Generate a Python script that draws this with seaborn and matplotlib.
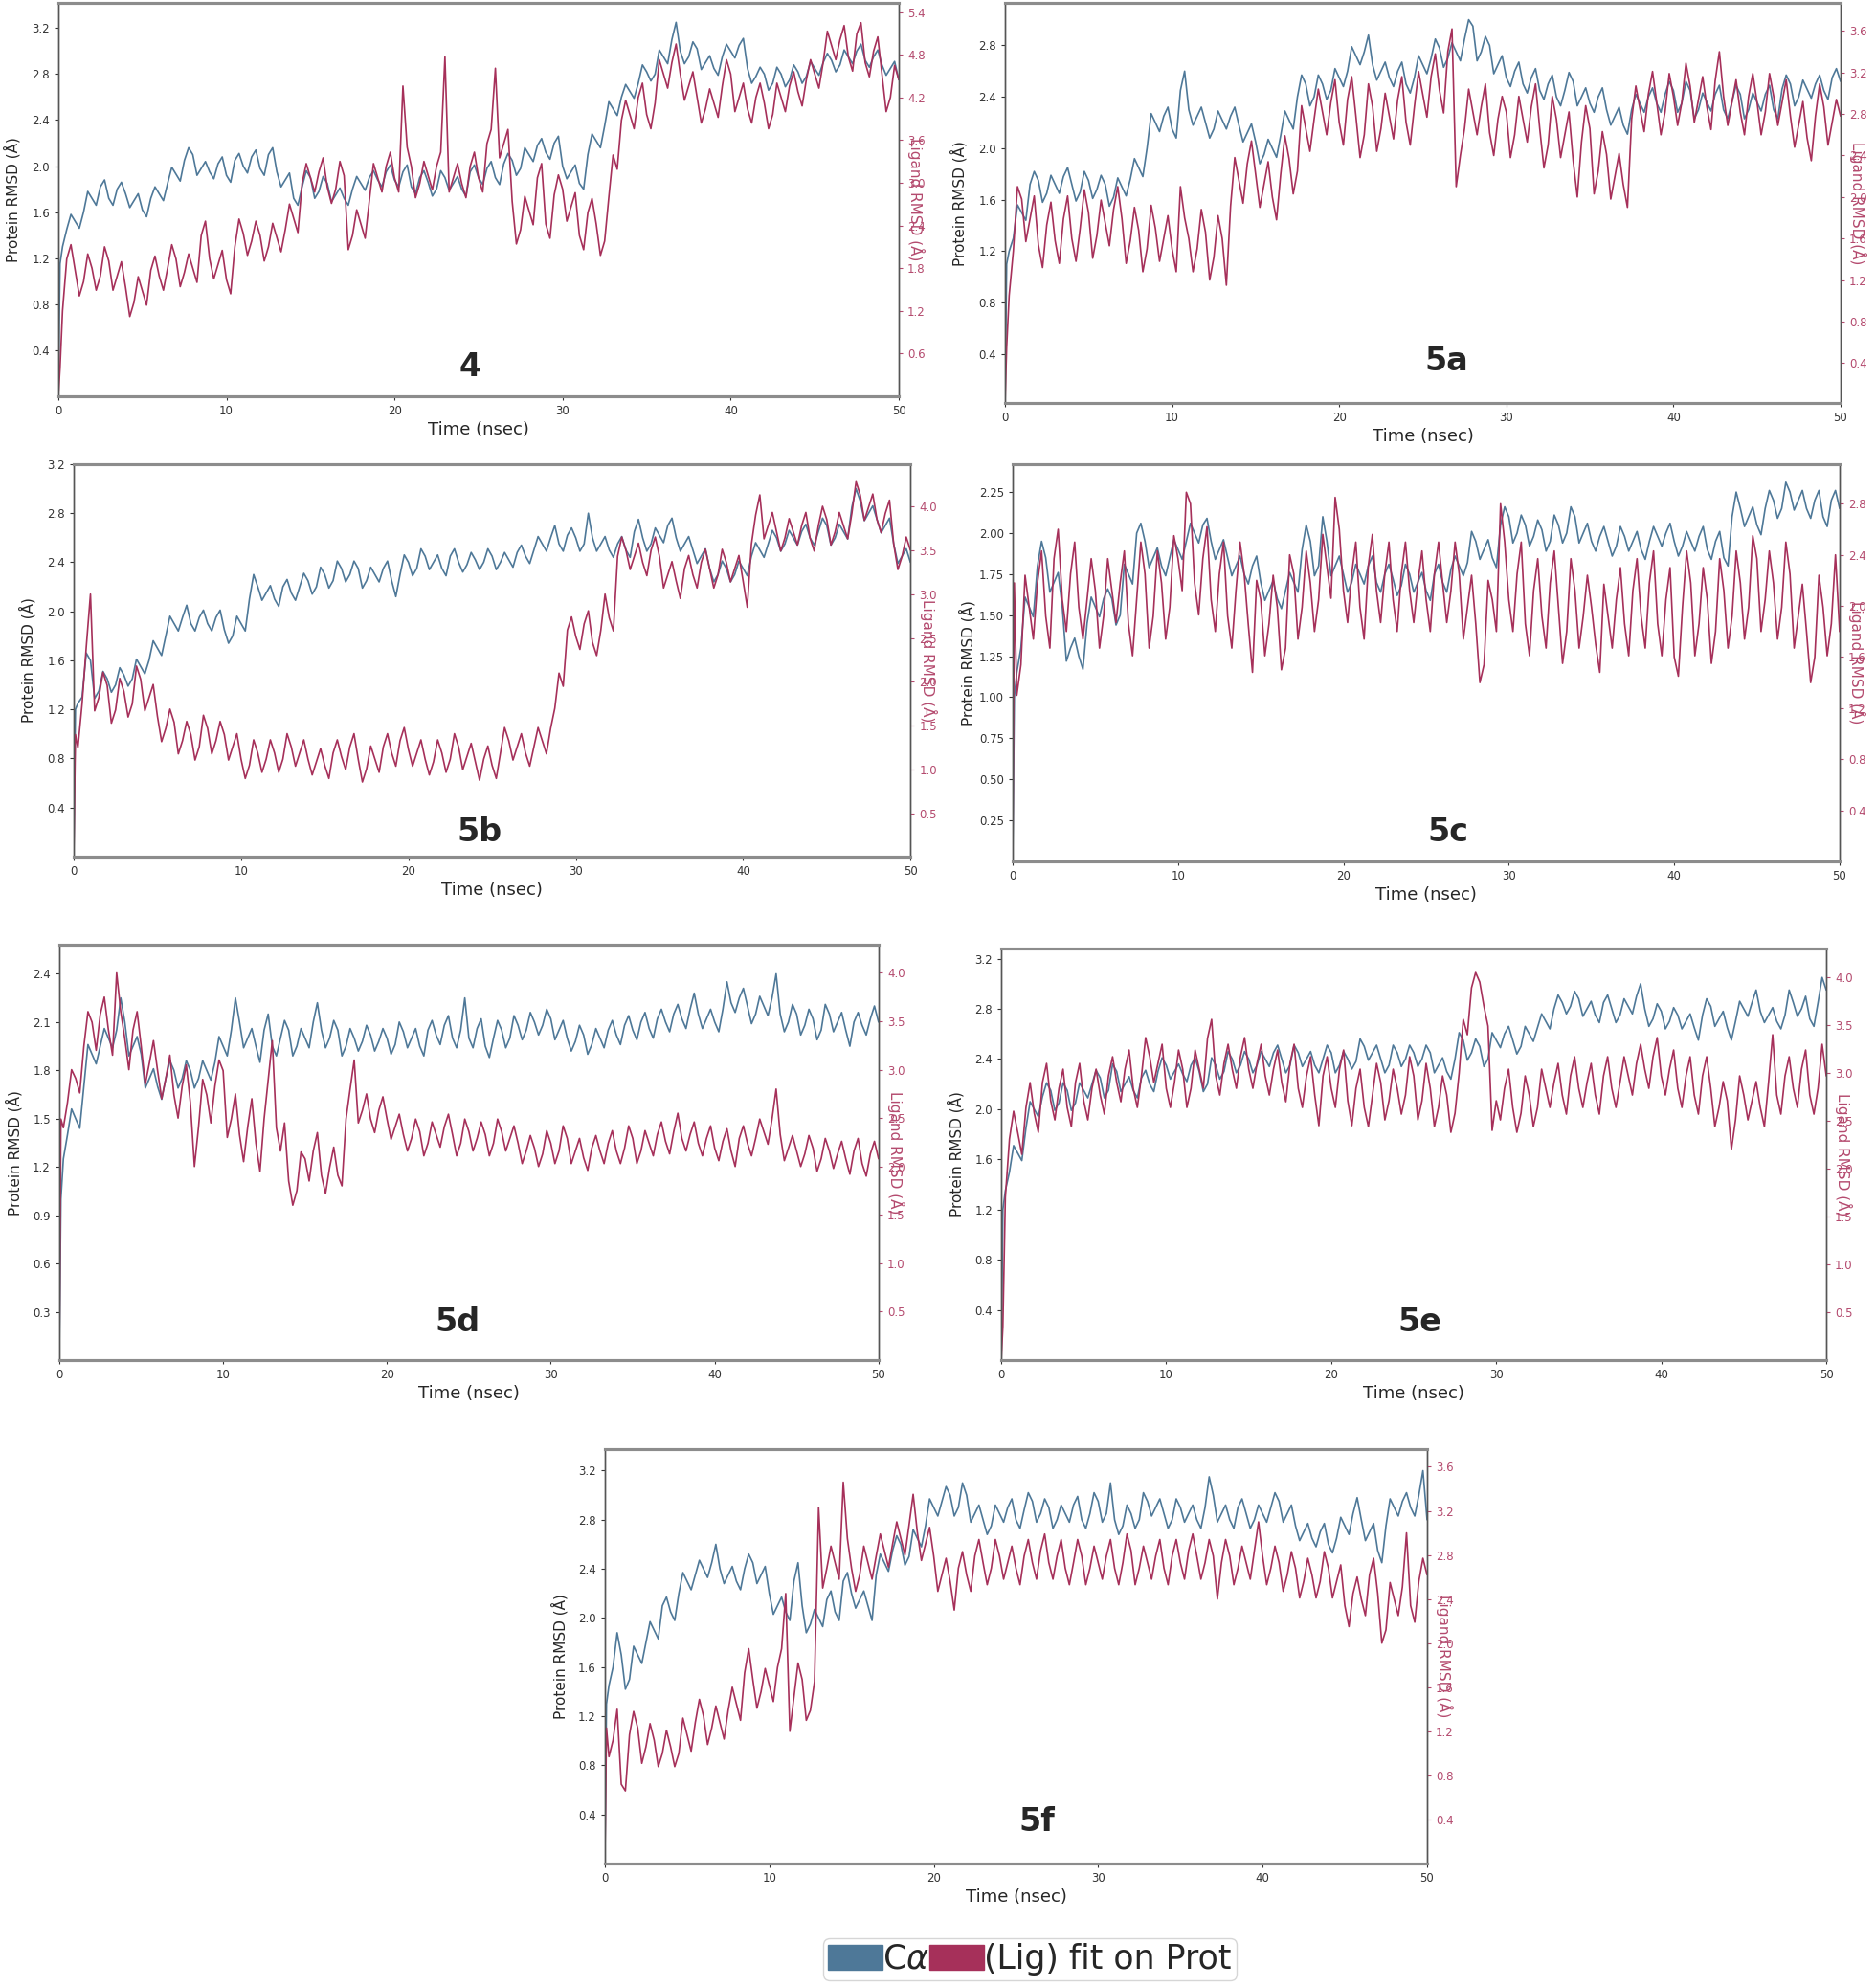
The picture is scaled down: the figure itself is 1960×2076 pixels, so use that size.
import numpy as np
import matplotlib
matplotlib.use("Agg")
import matplotlib.pyplot as plt
import seaborn as sns
from matplotlib.patches import Patch
from matplotlib.ticker import FormatStrFormatter

# frames: t=0, t=0.1, then every 0.25 ns up to 50 ns
time_ns = np.r_[0.0, 0.1, np.arange(1, 201) * 0.25]

# ---- compound 4 ----
prot_4 = [0.0,
    1.15, 1.30, 1.45, 1.58, 1.52, 1.46, 1.60, 1.78, 1.72, 1.66, 1.82, 1.88, 1.72, 1.66, 1.80, 1.86, 1.76, 1.64, 1.70, 1.76,
    1.62, 1.56, 1.72, 1.82, 1.76, 1.70, 1.85, 1.99, 1.93, 1.87, 2.05, 2.16, 2.10, 1.92, 1.98, 2.04, 1.95, 1.89, 2.02, 2.08,
    1.92, 1.86, 2.05, 2.11, 2.00, 1.94, 2.08, 2.14, 1.98, 1.92, 2.10, 2.16, 1.95, 1.82, 1.88, 1.94, 1.72, 1.66, 1.82, 1.96,
    1.90, 1.72, 1.78, 1.91, 1.85, 1.69, 1.75, 1.81, 1.72, 1.66, 1.80, 1.91, 1.85, 1.79, 1.90, 1.96, 1.88, 1.82, 1.95, 2.01,
    1.88, 1.82, 1.95, 2.01, 1.82, 1.76, 1.90, 1.96, 1.86, 1.74, 1.80, 1.96, 1.90, 1.79, 1.85, 1.91, 1.80, 1.74, 1.95, 2.01,
    1.90, 1.84, 1.98, 2.04, 1.90, 1.84, 2.02, 2.11, 2.05, 1.92, 1.98, 2.16, 2.10, 2.04, 2.18, 2.24, 2.12, 2.06, 2.20, 2.26,
    2.00, 1.89, 1.95, 2.01, 1.85, 1.80, 2.10, 2.28, 2.22, 2.16, 2.35, 2.56, 2.50, 2.44, 2.60, 2.71, 2.65, 2.59, 2.72, 2.88,
    2.82, 2.74, 2.80, 3.01, 2.95, 2.89, 3.10, 3.25, 3.00, 2.89, 2.95, 3.08, 3.02, 2.84, 2.90, 2.96, 2.85, 2.79, 2.95, 3.06,
    3.00, 2.94, 3.05, 3.11, 2.85, 2.72, 2.78, 2.86, 2.80, 2.66, 2.72, 2.86, 2.80, 2.69, 2.75, 2.88, 2.82, 2.72, 2.78, 2.91,
    2.85, 2.79, 2.90, 2.98, 2.92, 2.82, 2.88, 3.01, 2.95, 2.89, 3.00, 3.06, 2.92, 2.86, 2.95, 3.01, 2.88, 2.79, 2.85, 2.91,
    2.75]
lig_4 = [0.0,
    0.39, 1.20, 1.93, 2.13, 1.77, 1.41, 1.61, 2.00, 1.80, 1.49, 1.69, 2.10, 1.90, 1.49, 1.69, 1.89, 1.53, 1.12, 1.32, 1.68,
    1.48, 1.28, 1.77, 1.97, 1.69, 1.49, 1.80, 2.13, 1.93, 1.54, 1.74, 2.00, 1.80, 1.60, 2.26, 2.46, 1.93, 1.65, 1.85, 2.05,
    1.64, 1.44, 2.10, 2.49, 2.29, 1.98, 2.18, 2.46, 2.26, 1.90, 2.10, 2.43, 2.23, 2.03, 2.34, 2.70, 2.50, 2.30, 2.99, 3.27,
    3.07, 2.87, 3.15, 3.35, 2.94, 2.71, 2.91, 3.30, 3.10, 2.06, 2.26, 2.62, 2.42, 2.22, 2.74, 3.27, 3.07, 2.87, 3.23, 3.43,
    3.07, 2.87, 4.36, 3.50, 3.23, 2.79, 2.99, 3.30, 3.10, 2.90, 3.23, 3.43, 4.77, 2.87, 3.07, 3.27, 2.99, 2.79, 3.23, 3.43,
    3.07, 2.87, 3.55, 3.75, 4.61, 3.35, 3.55, 3.75, 2.74, 2.14, 2.34, 2.81, 2.61, 2.41, 3.07, 3.27, 2.42, 2.22, 2.83, 3.11,
    2.91, 2.46, 2.66, 2.86, 2.26, 2.06, 2.58, 2.78, 2.42, 1.98, 2.18, 2.80, 3.39, 3.19, 3.88, 4.16, 3.96, 3.76, 4.20, 4.40,
    3.96, 3.76, 4.12, 4.73, 4.53, 4.33, 4.69, 4.95, 4.53, 4.16, 4.36, 4.56, 4.20, 3.84, 4.04, 4.32, 4.12, 3.92, 4.36, 4.73,
    4.53, 4.00, 4.20, 4.40, 4.04, 3.84, 4.20, 4.40, 4.12, 3.76, 3.96, 4.40, 4.20, 4.00, 4.36, 4.56, 4.28, 4.08, 4.45, 4.73,
    4.53, 4.33, 4.69, 5.13, 4.93, 4.73, 5.01, 5.21, 4.77, 4.57, 5.09, 5.25, 4.69, 4.49, 4.85, 5.05, 4.53, 4.00, 4.20, 4.65,
    4.45]

# ---- compound 5a ----
prot_5a = [0.0,
    1.10, 1.20, 1.30, 1.56, 1.50, 1.44, 1.72, 1.82, 1.75, 1.58, 1.65, 1.79, 1.72, 1.65, 1.78, 1.85, 1.72, 1.59, 1.66, 1.82,
    1.75, 1.61, 1.68, 1.79, 1.72, 1.55, 1.62, 1.77, 1.70, 1.63, 1.76, 1.92, 1.85, 1.78, 2.00, 2.27, 2.20, 2.13, 2.25, 2.32,
    2.15, 2.08, 2.45, 2.60, 2.30, 2.18, 2.25, 2.32, 2.20, 2.08, 2.15, 2.29, 2.22, 2.15, 2.25, 2.32, 2.18, 2.05, 2.12, 2.19,
    2.05, 1.88, 1.95, 2.07, 2.00, 1.93, 2.10, 2.29, 2.22, 2.15, 2.40, 2.57, 2.50, 2.33, 2.40, 2.57, 2.50, 2.38, 2.45, 2.62,
    2.55, 2.48, 2.60, 2.79, 2.72, 2.65, 2.75, 2.88, 2.65, 2.53, 2.60, 2.67, 2.55, 2.48, 2.60, 2.67, 2.50, 2.43, 2.55, 2.72,
    2.65, 2.58, 2.70, 2.85, 2.78, 2.63, 2.70, 2.82, 2.75, 2.68, 2.85, 3.00, 2.95, 2.68, 2.75, 2.87, 2.80, 2.58, 2.65, 2.72,
    2.55, 2.48, 2.60, 2.67, 2.50, 2.43, 2.55, 2.62, 2.45, 2.38, 2.50, 2.57, 2.40, 2.33, 2.45, 2.59, 2.52, 2.33, 2.40, 2.47,
    2.35, 2.28, 2.40, 2.47, 2.30, 2.18, 2.25, 2.32, 2.18, 2.11, 2.30, 2.42, 2.35, 2.28, 2.40, 2.47, 2.35, 2.28, 2.42, 2.52,
    2.45, 2.28, 2.35, 2.52, 2.45, 2.23, 2.30, 2.43, 2.36, 2.29, 2.42, 2.49, 2.30, 2.23, 2.36, 2.49, 2.42, 2.23, 2.30, 2.43,
    2.36, 2.29, 2.42, 2.49, 2.30, 2.23, 2.46, 2.57, 2.50, 2.33, 2.40, 2.53, 2.46, 2.39, 2.50, 2.57, 2.45, 2.38, 2.55, 2.62,
    2.52]
lig_5a = [0.0,
    0.55, 1.05, 1.48, 2.10, 1.98, 1.57, 1.79, 2.01, 1.54, 1.32, 1.73, 1.95, 1.58, 1.36, 1.79, 2.01, 1.60, 1.38, 1.70, 2.07,
    1.85, 1.41, 1.63, 1.97, 1.75, 1.53, 1.88, 2.10, 1.79, 1.36, 1.58, 1.90, 1.68, 1.28, 1.50, 1.92, 1.70, 1.38, 1.60, 1.82,
    1.50, 1.28, 2.10, 1.80, 1.60, 1.28, 1.50, 1.88, 1.66, 1.20, 1.42, 1.82, 1.60, 1.15, 1.91, 2.38, 2.16, 1.94, 2.32, 2.54,
    2.22, 1.90, 2.12, 2.34, 2.00, 1.78, 2.22, 2.59, 2.37, 2.03, 2.25, 2.88, 2.66, 2.44, 2.75, 3.04, 2.82, 2.60, 2.91, 3.13,
    2.72, 2.50, 2.94, 3.16, 2.78, 2.38, 2.60, 3.09, 2.87, 2.44, 2.66, 3.00, 2.78, 2.56, 2.94, 3.16, 2.72, 2.50, 2.87, 3.21,
    2.99, 2.77, 3.16, 3.38, 3.03, 2.81, 3.40, 3.62, 2.10, 2.40, 2.66, 3.04, 2.82, 2.60, 2.87, 3.09, 2.62, 2.40, 2.75, 2.97,
    2.82, 2.38, 2.60, 2.97, 2.75, 2.53, 2.87, 3.09, 2.66, 2.28, 2.50, 2.97, 2.75, 2.38, 2.60, 2.82, 2.35, 2.00, 2.53, 2.88,
    2.66, 2.03, 2.25, 2.63, 2.41, 1.98, 2.20, 2.42, 2.12, 1.90, 2.75, 3.07, 2.85, 2.63, 2.99, 3.21, 2.91, 2.60, 2.82, 3.19,
    2.97, 2.69, 2.91, 3.29, 3.07, 2.72, 2.94, 3.16, 2.87, 2.65, 3.12, 3.40, 2.97, 2.69, 2.91, 3.13, 2.82, 2.60, 2.97, 3.19,
    2.92, 2.60, 2.82, 3.19, 2.97, 2.69, 2.91, 3.13, 2.78, 2.48, 2.70, 2.92, 2.57, 2.35, 2.78, 3.09, 2.87, 2.50, 2.72, 2.94,
    2.78]

# ---- compound 5b ----
prot_5b = [0.0,
    1.20, 1.25, 1.30, 1.66, 1.60, 1.29, 1.35, 1.51, 1.45, 1.34, 1.40, 1.54, 1.48, 1.39, 1.45, 1.61, 1.55, 1.49, 1.60, 1.76,
    1.70, 1.64, 1.80, 1.96, 1.90, 1.84, 1.95, 2.05, 1.90, 1.84, 1.95, 2.01, 1.90, 1.84, 1.95, 2.01, 1.85, 1.74, 1.80, 1.96,
    1.90, 1.84, 2.10, 2.30, 2.20, 2.09, 2.15, 2.21, 2.10, 2.04, 2.20, 2.26, 2.15, 2.09, 2.20, 2.31, 2.25, 2.14, 2.20, 2.36,
    2.30, 2.19, 2.25, 2.41, 2.35, 2.24, 2.30, 2.41, 2.35, 2.19, 2.25, 2.36, 2.30, 2.24, 2.35, 2.41, 2.25, 2.12, 2.30, 2.46,
    2.40, 2.29, 2.35, 2.51, 2.45, 2.34, 2.40, 2.46, 2.35, 2.29, 2.45, 2.51, 2.40, 2.32, 2.38, 2.48, 2.42, 2.34, 2.40, 2.51,
    2.45, 2.34, 2.40, 2.48, 2.42, 2.36, 2.48, 2.54, 2.45, 2.39, 2.50, 2.61, 2.55, 2.49, 2.60, 2.70, 2.55, 2.49, 2.62, 2.68,
    2.60, 2.49, 2.55, 2.80, 2.60, 2.49, 2.55, 2.61, 2.50, 2.44, 2.55, 2.61, 2.50, 2.44, 2.65, 2.75, 2.60, 2.49, 2.55, 2.68,
    2.62, 2.56, 2.70, 2.76, 2.60, 2.49, 2.55, 2.61, 2.50, 2.39, 2.45, 2.51, 2.35, 2.24, 2.30, 2.41, 2.35, 2.24, 2.30, 2.41,
    2.35, 2.29, 2.45, 2.56, 2.50, 2.44, 2.55, 2.66, 2.60, 2.49, 2.55, 2.66, 2.60, 2.54, 2.65, 2.71, 2.60, 2.54, 2.65, 2.76,
    2.70, 2.54, 2.60, 2.71, 2.65, 2.59, 2.85, 3.00, 2.90, 2.74, 2.80, 2.86, 2.75, 2.64, 2.70, 2.76, 2.55, 2.39, 2.45, 2.51,
    2.40]
lig_5b = [0.0,
    1.40, 1.25, 1.75, 2.40, 3.00, 1.67, 1.82, 2.11, 1.96, 1.53, 1.68, 2.04, 1.89, 1.60, 1.75, 2.18, 2.03, 1.67, 1.82, 1.97,
    1.61, 1.32, 1.47, 1.69, 1.54, 1.18, 1.33, 1.55, 1.40, 1.11, 1.26, 1.62, 1.47, 1.18, 1.33, 1.55, 1.40, 1.11, 1.26, 1.41,
    1.12, 0.90, 1.05, 1.34, 1.19, 0.97, 1.12, 1.34, 1.19, 0.97, 1.12, 1.41, 1.26, 1.04, 1.19, 1.34, 1.12, 0.94, 1.09, 1.24,
    1.05, 0.90, 1.19, 1.34, 1.15, 1.00, 1.26, 1.41, 1.12, 0.86, 1.01, 1.27, 1.12, 0.97, 1.26, 1.41, 1.19, 1.04, 1.33, 1.48,
    1.23, 1.04, 1.19, 1.34, 1.12, 0.94, 1.09, 1.34, 1.19, 0.97, 1.12, 1.41, 1.26, 1.00, 1.15, 1.30, 1.09, 0.88, 1.12, 1.27,
    1.05, 0.90, 1.19, 1.48, 1.33, 1.11, 1.26, 1.41, 1.19, 1.04, 1.26, 1.48, 1.33, 1.18, 1.47, 1.70, 2.10, 1.95, 2.59, 2.74,
    2.52, 2.37, 2.66, 2.81, 2.45, 2.30, 2.59, 3.00, 2.73, 2.58, 3.43, 3.65, 3.50, 3.28, 3.43, 3.58, 3.36, 3.21, 3.50, 3.65,
    3.43, 3.07, 3.22, 3.37, 3.15, 2.95, 3.29, 3.44, 3.22, 3.07, 3.36, 3.51, 3.29, 3.07, 3.22, 3.51, 3.36, 3.14, 3.29, 3.44,
    3.15, 2.85, 3.57, 3.90, 4.13, 3.63, 3.78, 3.93, 3.71, 3.49, 3.64, 3.86, 3.71, 3.56, 3.78, 3.93, 3.64, 3.49, 3.78, 4.00,
    3.85, 3.56, 3.71, 3.93, 3.78, 3.63, 3.92, 4.28, 4.13, 3.84, 3.99, 4.14, 3.85, 3.70, 3.92, 4.07, 3.57, 3.28, 3.43, 3.65,
    3.50]

# ---- compound 5c ----
prot_5c = [0.0,
    1.00, 1.15, 1.30, 1.61, 1.55, 1.49, 1.80, 1.95, 1.85, 1.64, 1.70, 1.76, 1.55, 1.22, 1.30, 1.36, 1.25, 1.17, 1.45, 1.61,
    1.55, 1.49, 1.60, 1.66, 1.60, 1.44, 1.50, 1.81, 1.75, 1.69, 2.00, 2.06, 1.95, 1.79, 1.85, 1.91, 1.80, 1.74, 1.85, 1.96,
    1.90, 1.84, 1.95, 2.06, 2.00, 1.94, 2.05, 2.09, 1.95, 1.84, 1.90, 1.96, 1.85, 1.74, 1.80, 1.86, 1.75, 1.69, 1.80, 1.86,
    1.70, 1.59, 1.65, 1.71, 1.60, 1.54, 1.65, 1.76, 1.70, 1.64, 1.90, 2.05, 1.95, 1.74, 1.80, 2.10, 1.95, 1.74, 1.80, 1.86,
    1.75, 1.64, 1.70, 1.81, 1.75, 1.69, 1.80, 1.86, 1.70, 1.64, 1.75, 1.81, 1.72, 1.62, 1.68, 1.81, 1.75, 1.64, 1.70, 1.76,
    1.65, 1.59, 1.75, 1.81, 1.70, 1.64, 1.78, 1.86, 1.80, 1.74, 1.82, 2.01, 1.95, 1.84, 1.90, 1.96, 1.85, 1.79, 2.05, 2.16,
    2.10, 1.94, 2.00, 2.11, 2.05, 1.92, 1.98, 2.08, 2.02, 1.89, 1.95, 2.11, 2.05, 1.94, 2.00, 2.16, 2.10, 1.94, 2.00, 2.06,
    1.95, 1.89, 1.98, 2.04, 1.95, 1.86, 1.92, 2.04, 1.98, 1.89, 1.95, 2.01, 1.90, 1.84, 1.95, 2.04, 1.98, 1.92, 2.00, 2.06,
    1.95, 1.86, 1.92, 2.01, 1.95, 1.89, 1.98, 2.04, 1.90, 1.84, 1.95, 2.01, 1.85, 1.80, 2.10, 2.25, 2.15, 2.04, 2.10, 2.16,
    2.05, 1.99, 2.15, 2.26, 2.20, 2.09, 2.15, 2.31, 2.25, 2.14, 2.20, 2.26, 2.15, 2.09, 2.20, 2.26, 2.10, 2.04, 2.20, 2.26,
    2.15]
lig_5c = [0.0,
    2.18, 1.30, 1.54, 2.24, 1.99, 1.74, 2.18, 2.43, 1.92, 1.67, 2.37, 2.60, 2.05, 1.80, 2.25, 2.50, 1.99, 1.74, 2.05, 2.37,
    2.12, 1.67, 1.92, 2.37, 2.12, 1.87, 2.18, 2.43, 1.86, 1.61, 2.05, 2.50, 2.25, 1.67, 1.92, 2.43, 2.18, 1.74, 1.99, 2.55,
    2.37, 2.12, 2.89, 2.80, 2.18, 1.93, 2.37, 2.62, 2.05, 1.80, 2.25, 2.50, 1.92, 1.67, 2.12, 2.50, 2.25, 1.85, 1.48, 2.20,
    2.05, 1.61, 1.86, 2.24, 1.99, 1.50, 1.67, 2.40, 2.25, 1.74, 1.99, 2.43, 2.18, 1.80, 2.05, 2.56, 2.31, 2.06, 2.85, 2.60,
    2.12, 1.87, 2.25, 2.50, 1.99, 1.74, 2.31, 2.56, 2.12, 1.87, 2.25, 2.50, 2.05, 1.80, 2.25, 2.50, 2.12, 1.87, 2.18, 2.43,
    2.05, 1.80, 2.25, 2.50, 2.18, 1.87, 2.12, 2.50, 2.25, 1.74, 1.99, 2.24, 1.86, 1.40, 1.54, 2.20, 2.05, 1.80, 2.80, 2.50,
    2.05, 1.80, 2.25, 2.50, 1.86, 1.61, 2.12, 2.37, 1.92, 1.67, 2.18, 2.43, 1.99, 1.55, 1.80, 2.37, 2.12, 1.67, 1.92, 2.24,
    1.99, 1.70, 1.48, 2.17, 1.92, 1.67, 2.05, 2.30, 1.86, 1.61, 2.12, 2.37, 1.92, 1.67, 2.18, 2.43, 1.86, 1.61, 2.05, 2.30,
    1.60, 1.45, 1.99, 2.43, 2.18, 1.61, 1.86, 2.30, 2.05, 1.55, 1.80, 2.37, 2.12, 1.67, 1.92, 2.43, 2.18, 1.74, 1.99, 2.55,
    2.37, 1.80, 2.05, 2.43, 2.18, 1.74, 1.99, 2.50, 2.25, 1.67, 1.92, 2.17, 1.80, 1.40, 1.60, 2.24, 1.99, 1.61, 1.86, 2.40,
    1.80]

# ---- compound 5d ----
prot_5d = [0.0,
    1.00, 1.25, 1.40, 1.56, 1.50, 1.44, 1.70, 1.96, 1.90, 1.84, 1.95, 2.06, 2.00, 1.94, 2.05, 2.25, 2.10, 1.89, 1.95, 2.01,
    1.90, 1.69, 1.75, 1.81, 1.70, 1.62, 1.75, 1.86, 1.80, 1.69, 1.75, 1.86, 1.80, 1.69, 1.75, 1.86, 1.80, 1.74, 1.85, 2.01,
    1.95, 1.89, 2.05, 2.25, 2.10, 1.94, 2.00, 2.06, 1.95, 1.85, 2.05, 2.15, 1.95, 1.89, 2.00, 2.11, 2.05, 1.89, 1.95, 2.06,
    2.00, 1.94, 2.10, 2.22, 2.05, 1.94, 2.00, 2.11, 2.05, 1.89, 1.95, 2.06, 2.00, 1.92, 1.98, 2.08, 2.02, 1.92, 1.98, 2.06,
    2.00, 1.90, 1.96, 2.10, 2.04, 1.94, 2.00, 2.06, 1.95, 1.89, 2.05, 2.11, 2.02, 1.96, 2.08, 2.14, 2.00, 1.94, 2.05, 2.25,
    2.00, 1.94, 2.06, 2.12, 1.95, 1.88, 2.00, 2.11, 2.05, 1.94, 2.00, 2.14, 2.08, 1.99, 2.05, 2.16, 2.10, 2.02, 2.08, 2.18,
    2.12, 1.99, 2.05, 2.11, 2.00, 1.92, 1.98, 2.08, 2.02, 1.90, 1.96, 2.06, 2.00, 1.94, 2.05, 2.11, 2.02, 1.96, 2.08, 2.14,
    2.05, 1.99, 2.10, 2.16, 2.06, 2.00, 2.12, 2.18, 2.10, 2.04, 2.15, 2.21, 2.12, 2.06, 2.18, 2.28, 2.15, 2.06, 2.12, 2.18,
    2.10, 2.04, 2.18, 2.35, 2.22, 2.16, 2.25, 2.31, 2.20, 2.09, 2.15, 2.26, 2.20, 2.14, 2.25, 2.40, 2.15, 2.04, 2.10, 2.21,
    2.15, 2.02, 2.08, 2.18, 2.12, 1.99, 2.05, 2.21, 2.15, 2.04, 2.10, 2.16, 2.05, 1.95, 2.10, 2.16, 2.08, 2.02, 2.12, 2.20,
    2.10]
lig_5d = [0.0,
    2.49, 2.40, 2.66, 3.00, 2.91, 2.76, 3.24, 3.60, 3.49, 3.20, 3.57, 3.75, 3.41, 3.15, 4.00, 3.60, 3.32, 3.00, 3.41, 3.60,
    3.24, 2.85, 3.07, 3.30, 2.99, 2.70, 2.91, 3.15, 2.74, 2.50, 2.83, 3.05, 2.66, 2.00, 2.41, 2.90, 2.74, 2.45, 2.83, 3.10,
    2.99, 2.30, 2.49, 2.75, 2.33, 2.05, 2.41, 2.70, 2.24, 1.95, 2.49, 2.90, 3.30, 2.40, 2.16, 2.45, 1.85, 1.60, 1.75, 2.15,
    2.08, 1.85, 2.16, 2.35, 1.91, 1.72, 1.99, 2.20, 1.91, 1.80, 2.49, 2.80, 3.10, 2.45, 2.58, 2.75, 2.49, 2.35, 2.58, 2.72,
    2.49, 2.28, 2.41, 2.54, 2.33, 2.16, 2.29, 2.49, 2.36, 2.11, 2.24, 2.46, 2.33, 2.20, 2.41, 2.54, 2.33, 2.11, 2.24, 2.49,
    2.36, 2.16, 2.29, 2.46, 2.33, 2.11, 2.24, 2.49, 2.36, 2.16, 2.29, 2.42, 2.24, 2.03, 2.16, 2.32, 2.19, 2.00, 2.13, 2.37,
    2.24, 2.03, 2.16, 2.42, 2.29, 2.03, 2.16, 2.29, 2.09, 1.96, 2.19, 2.32, 2.16, 2.03, 2.24, 2.37, 2.16, 2.03, 2.19, 2.42,
    2.29, 2.03, 2.16, 2.37, 2.24, 2.11, 2.33, 2.46, 2.26, 2.13, 2.36, 2.55, 2.29, 2.16, 2.33, 2.46, 2.24, 2.11, 2.29, 2.42,
    2.19, 2.06, 2.26, 2.39, 2.16, 2.00, 2.29, 2.42, 2.24, 2.11, 2.29, 2.49, 2.36, 2.23, 2.49, 2.80, 2.33, 2.06, 2.19, 2.32,
    2.16, 2.00, 2.13, 2.32, 2.19, 1.95, 2.08, 2.29, 2.16, 1.98, 2.13, 2.26, 2.08, 1.92, 2.16, 2.29, 2.03, 1.90, 2.13, 2.26,
    2.08]

# ---- compound 5e ----
prot_5e = [0.0,
    1.20, 1.35, 1.50, 1.71, 1.65, 1.59, 1.85, 2.06, 2.00, 1.94, 2.10, 2.21, 2.15, 1.99, 2.05, 2.21, 2.15, 1.99, 2.05, 2.21,
    2.15, 2.09, 2.20, 2.31, 2.25, 2.09, 2.15, 2.36, 2.30, 2.14, 2.20, 2.26, 2.15, 2.09, 2.25, 2.31, 2.20, 2.14, 2.30, 2.41,
    2.35, 2.24, 2.30, 2.36, 2.28, 2.22, 2.35, 2.41, 2.30, 2.14, 2.20, 2.41, 2.35, 2.24, 2.30, 2.46, 2.40, 2.29, 2.35, 2.46,
    2.40, 2.29, 2.35, 2.46, 2.40, 2.34, 2.45, 2.51, 2.40, 2.29, 2.35, 2.51, 2.45, 2.34, 2.40, 2.46, 2.35, 2.29, 2.40, 2.51,
    2.45, 2.29, 2.35, 2.46, 2.40, 2.32, 2.38, 2.56, 2.50, 2.39, 2.45, 2.51, 2.40, 2.29, 2.35, 2.51, 2.45, 2.34, 2.40, 2.51,
    2.45, 2.34, 2.40, 2.51, 2.45, 2.29, 2.35, 2.41, 2.30, 2.24, 2.40, 2.61, 2.55, 2.39, 2.45, 2.56, 2.50, 2.34, 2.40, 2.61,
    2.55, 2.49, 2.60, 2.66, 2.55, 2.44, 2.50, 2.66, 2.60, 2.54, 2.65, 2.76, 2.70, 2.64, 2.80, 2.91, 2.85, 2.76, 2.82, 2.94,
    2.88, 2.74, 2.80, 2.86, 2.75, 2.69, 2.85, 2.91, 2.80, 2.69, 2.75, 2.88, 2.82, 2.76, 2.90, 3.00, 2.80, 2.66, 2.72, 2.84,
    2.78, 2.64, 2.70, 2.81, 2.75, 2.64, 2.70, 2.76, 2.65, 2.55, 2.75, 2.88, 2.82, 2.66, 2.72, 2.78, 2.65, 2.55, 2.70, 2.86,
    2.80, 2.74, 2.85, 2.95, 2.78, 2.69, 2.75, 2.81, 2.70, 2.64, 2.75, 2.95, 2.85, 2.74, 2.80, 2.90, 2.72, 2.66, 2.85, 3.05,
    2.95]
lig_5e = [0.0,
    0.35, 1.70, 2.31, 2.60, 2.38, 2.15, 2.64, 2.90, 2.58, 2.38, 2.90, 3.10, 2.71, 2.51, 2.84, 3.04, 2.64, 2.44, 2.90, 3.10,
    2.71, 2.51, 2.84, 3.04, 2.77, 2.57, 2.97, 3.17, 2.90, 2.70, 3.04, 3.24, 2.84, 2.64, 2.97, 3.37, 3.17, 2.90, 3.10, 3.30,
    2.84, 2.64, 2.90, 3.24, 3.04, 2.64, 2.84, 3.24, 3.04, 2.84, 3.36, 3.56, 2.97, 2.77, 3.10, 3.30, 3.04, 2.84, 3.17, 3.37,
    3.04, 2.84, 3.10, 3.30, 2.97, 2.77, 3.04, 3.24, 2.90, 2.70, 3.10, 3.30, 2.84, 2.64, 2.97, 3.17, 2.77, 2.45, 2.97, 3.17,
    2.84, 2.64, 3.04, 3.24, 2.71, 2.45, 2.84, 3.04, 2.64, 2.44, 2.77, 3.10, 2.90, 2.51, 2.71, 3.04, 2.84, 2.57, 2.77, 3.17,
    2.97, 2.51, 2.71, 3.10, 2.84, 2.44, 2.64, 2.97, 2.77, 2.38, 2.58, 3.00, 3.56, 3.40, 3.89, 4.05, 3.95, 3.70, 3.49, 2.40,
    2.71, 2.51, 2.84, 3.04, 2.64, 2.38, 2.58, 2.97, 2.77, 2.44, 2.64, 3.04, 2.84, 2.64, 2.90, 3.10, 2.77, 2.57, 2.97, 3.17,
    2.84, 2.64, 2.90, 3.10, 2.77, 2.57, 2.97, 3.17, 2.84, 2.64, 2.90, 3.17, 2.97, 2.77, 3.10, 3.30, 3.04, 2.84, 3.17, 3.37,
    2.97, 2.77, 3.04, 3.24, 2.84, 2.64, 2.97, 3.17, 2.77, 2.57, 2.97, 3.17, 2.84, 2.44, 2.64, 2.91, 2.71, 2.20, 2.51, 2.97,
    2.77, 2.51, 2.71, 2.91, 2.64, 2.44, 2.90, 3.40, 2.77, 2.57, 2.97, 3.17, 2.84, 2.64, 3.04, 3.24, 2.77, 2.57, 2.84, 3.30,
    2.97]

# ---- compound 5f ----
prot_5f = [0.0,
    1.30, 1.45, 1.60, 1.88, 1.70, 1.42, 1.50, 1.77, 1.70, 1.63, 1.80, 1.97, 1.90, 1.83, 2.10, 2.17, 2.05, 1.98, 2.20, 2.37,
    2.30, 2.23, 2.35, 2.47, 2.40, 2.33, 2.45, 2.60, 2.40, 2.28, 2.35, 2.42, 2.30, 2.23, 2.40, 2.52, 2.45, 2.28, 2.35, 2.42,
    2.20, 2.03, 2.10, 2.17, 2.05, 1.98, 2.30, 2.45, 2.10, 1.88, 1.95, 2.07, 2.00, 1.93, 2.15, 2.22, 2.05, 1.98, 2.30, 2.37,
    2.20, 2.08, 2.15, 2.22, 2.10, 1.98, 2.35, 2.52, 2.45, 2.38, 2.55, 2.67, 2.60, 2.43, 2.50, 2.72, 2.65, 2.58, 2.75, 2.97,
    2.90, 2.83, 2.95, 3.07, 3.00, 2.83, 2.90, 3.10, 3.00, 2.78, 2.85, 2.92, 2.80, 2.68, 2.75, 2.92, 2.85, 2.78, 2.90, 2.97,
    2.80, 2.73, 2.88, 3.02, 2.95, 2.78, 2.85, 2.97, 2.90, 2.73, 2.80, 2.92, 2.85, 2.78, 2.92, 2.99, 2.80, 2.73, 2.85, 3.02,
    2.95, 2.78, 2.85, 3.10, 2.80, 2.68, 2.75, 2.92, 2.85, 2.73, 2.80, 3.02, 2.95, 2.83, 2.90, 2.97, 2.85, 2.73, 2.80, 2.97,
    2.90, 2.78, 2.85, 2.92, 2.80, 2.73, 2.90, 3.15, 3.00, 2.78, 2.85, 2.92, 2.80, 2.73, 2.90, 2.97, 2.85, 2.73, 2.80, 2.92,
    2.85, 2.78, 2.90, 3.02, 2.95, 2.78, 2.85, 2.92, 2.75, 2.63, 2.70, 2.77, 2.65, 2.58, 2.70, 2.77, 2.60, 2.53, 2.65, 2.82,
    2.75, 2.68, 2.85, 2.98, 2.80, 2.63, 2.70, 2.77, 2.55, 2.45, 2.75, 2.97, 2.90, 2.83, 2.95, 3.02, 2.90, 2.83, 3.00, 3.20,
    2.80]
lig_5f = [0.0,
    1.23, 0.97, 1.12, 1.40, 0.72, 0.66, 1.17, 1.38, 1.23, 0.91, 1.06, 1.27, 1.12, 0.88, 1.00, 1.21, 1.06, 0.88, 1.00, 1.32,
    1.17, 1.02, 1.28, 1.49, 1.34, 1.08, 1.23, 1.43, 1.28, 1.13, 1.39, 1.60, 1.45, 1.30, 1.73, 1.95, 1.67, 1.41, 1.56, 1.77,
    1.62, 1.47, 1.78, 1.95, 2.45, 1.20, 1.51, 1.82, 1.67, 1.30, 1.39, 1.65, 3.23, 2.50, 2.68, 2.88, 2.73, 2.58, 3.46, 2.95,
    2.68, 2.47, 2.62, 2.88, 2.73, 2.58, 2.79, 2.99, 2.84, 2.69, 2.90, 3.10, 2.95, 2.80, 3.07, 3.35, 3.01, 2.75, 2.90, 3.05,
    2.79, 2.47, 2.62, 2.77, 2.56, 2.30, 2.68, 2.83, 2.62, 2.47, 2.79, 2.94, 2.73, 2.53, 2.68, 2.94, 2.79, 2.58, 2.73, 2.88,
    2.68, 2.53, 2.79, 2.94, 2.73, 2.58, 2.84, 2.99, 2.73, 2.58, 2.79, 2.94, 2.68, 2.53, 2.73, 2.94, 2.79, 2.53, 2.68, 2.88,
    2.73, 2.58, 2.79, 2.94, 2.68, 2.53, 2.73, 2.99, 2.84, 2.53, 2.68, 2.88, 2.73, 2.58, 2.79, 2.94, 2.68, 2.53, 2.79, 2.94,
    2.73, 2.58, 2.84, 2.99, 2.79, 2.58, 2.73, 2.94, 2.79, 2.40, 2.73, 2.94, 2.79, 2.53, 2.68, 2.88, 2.73, 2.58, 2.84, 3.10,
    2.79, 2.53, 2.68, 2.88, 2.73, 2.47, 2.62, 2.83, 2.68, 2.41, 2.56, 2.77, 2.62, 2.41, 2.56, 2.83, 2.68, 2.41, 2.56, 2.71,
    2.34, 2.15, 2.45, 2.60, 2.40, 2.25, 2.62, 2.77, 2.45, 2.00, 2.12, 2.55, 2.40, 2.25, 2.51, 3.00, 2.34, 2.19, 2.56, 2.77,
    2.62]

BLUE = "#4e7898"
RED = "#a6305a"
RED_TXT = "#b44a6e"

sns.set_style("white")
plt.rcParams['font.family'] = ['DejaVu Sans']

# label, protein, ligand, axes rect, left ylim, right ylim, left ticks, right ticks, fmt, label pos
panels = [
    ("4", prot_4, lig_4, [0.0311, 0.8006, 0.448, 0.198], (0.0, 3.42), (0.0, 5.53),
     np.arange(1, 9) * 0.4, np.arange(1, 10) * 0.6, '%.1f', (0.49, 0.074)),
    ("5a", prot_5a, lig_5a, [0.5357, 0.7972, 0.4454, 0.2013], (0.02, 3.13), (0.015, 3.87),
     np.arange(1, 8) * 0.4, np.arange(1, 10) * 0.4, '%.1f', (0.528, 0.104)),
    ("5b", prot_5b, lig_5b, [0.0393, 0.5689, 0.446, 0.1975], (0.0, 3.2), (0.01, 4.48),
     np.arange(1, 9) * 0.4, np.arange(1, 9) * 0.5, '%.1f', (0.485, 0.061)),
    ("5c", prot_5c, lig_5c, [0.5398, 0.5665, 0.4408, 0.1999], (0.0, 2.42), (0.0, 3.11),
     np.arange(1, 10) * 0.25, np.arange(1, 8) * 0.4, '%.2f', (0.526, 0.073)),
    ("5d", prot_5d, lig_5d, [0.0316, 0.3155, 0.4367, 0.209], (0.0, 2.58), (0.0, 4.29),
     np.arange(1, 9) * 0.3, np.arange(1, 9) * 0.5, '%.1f', (0.486, 0.091)),
    ("5e", prot_5e, lig_5e, [0.5337, 0.3155, 0.4398, 0.2071], (0.0, 3.28), (0.0, 4.30),
     np.arange(1, 9) * 0.4, np.arange(1, 9) * 0.5, '%.1f', (0.507, 0.091)),
    ("5f", prot_5f, lig_5f, [0.3224, 0.0621, 0.4383, 0.2086], (0.0, 3.375), (0.0, 3.76),
     np.arange(1, 9) * 0.4, np.arange(1, 10) * 0.4, '%.1f', (0.525, 0.101)),
]

fig = plt.figure(figsize=(19.6, 20.76), dpi=100)

for label, prot, lig, rect, ylim_l, ylim_r, ticks_l, ticks_r, fmt, lpos in panels:
    ax = fig.add_axes(rect)
    sns.lineplot(x=time_ns, y=prot, ax=ax, color=BLUE, linewidth=1.2)
    ax2 = ax.twinx()
    sns.lineplot(x=time_ns, y=lig, ax=ax2, color=RED, linewidth=1.2)

    ax.set_xlim(0, 50)
    ax.set_ylim(*ylim_l)
    ax2.set_ylim(*ylim_r)
    ax.set_xticks([0, 10, 20, 30, 40, 50])
    ax.set_yticks(ticks_l)
    ax2.set_yticks(ticks_r)
    ax.yaxis.set_major_formatter(FormatStrFormatter(fmt))
    ax2.yaxis.set_major_formatter(FormatStrFormatter('%.1f'))

    ax.tick_params(axis='both', labelsize=8.5, length=3, width=0.8,
                   colors='#333333', left=True, bottom=True)
    ax2.tick_params(axis='y', labelsize=8.5, length=3, width=0.8,
                    colors=RED_TXT, right=True)

    ax.set_xlabel("Time (nsec)", fontsize=13, labelpad=3)
    ax.set_ylabel("Protein RMSD (Å)", fontsize=11)
    ax.yaxis.label.set_verticalalignment('center')
    ax.yaxis.set_label_coords(-0.055, 0.5)
    ax2.set_ylabel("Ligand RMSD (Å)", fontsize=11, color=RED_TXT, rotation=270)
    ax2.yaxis.label.set_verticalalignment('center')
    ax2.yaxis.set_label_coords(1.021, 0.5)

    for a in (ax, ax2):
        for side in ('top', 'bottom'):
            a.spines[side].set_color('#8c8c8c')
            a.spines[side].set_linewidth(2.2)
        a.spines['left'].set_color('#555555')
        a.spines['left'].set_linewidth(1.0)
        a.spines['right'].set_color('#555555')
        a.spines['right'].set_linewidth(1.0)

    ax.text(lpos[0], lpos[1], label, transform=ax.transAxes, fontsize=24,
            fontweight='bold', ha='center', va='center', zorder=10)

handles = [Patch(facecolor=BLUE, edgecolor=BLUE), Patch(facecolor=RED, edgecolor=RED)]
fig.legend(handles, ["C$\\alpha$", "(Lig) fit on Prot"], loc='center',
           bbox_to_anchor=(0.549, 0.014), ncol=2, fontsize=25,
           handlelength=1.65, handleheight=0.75, handletextpad=0.0,
           columnspacing=0.0, borderpad=0.15, frameon=True, fancybox=True,
           edgecolor='#cccccc')

fig.savefig("out.png", dpi=100)
